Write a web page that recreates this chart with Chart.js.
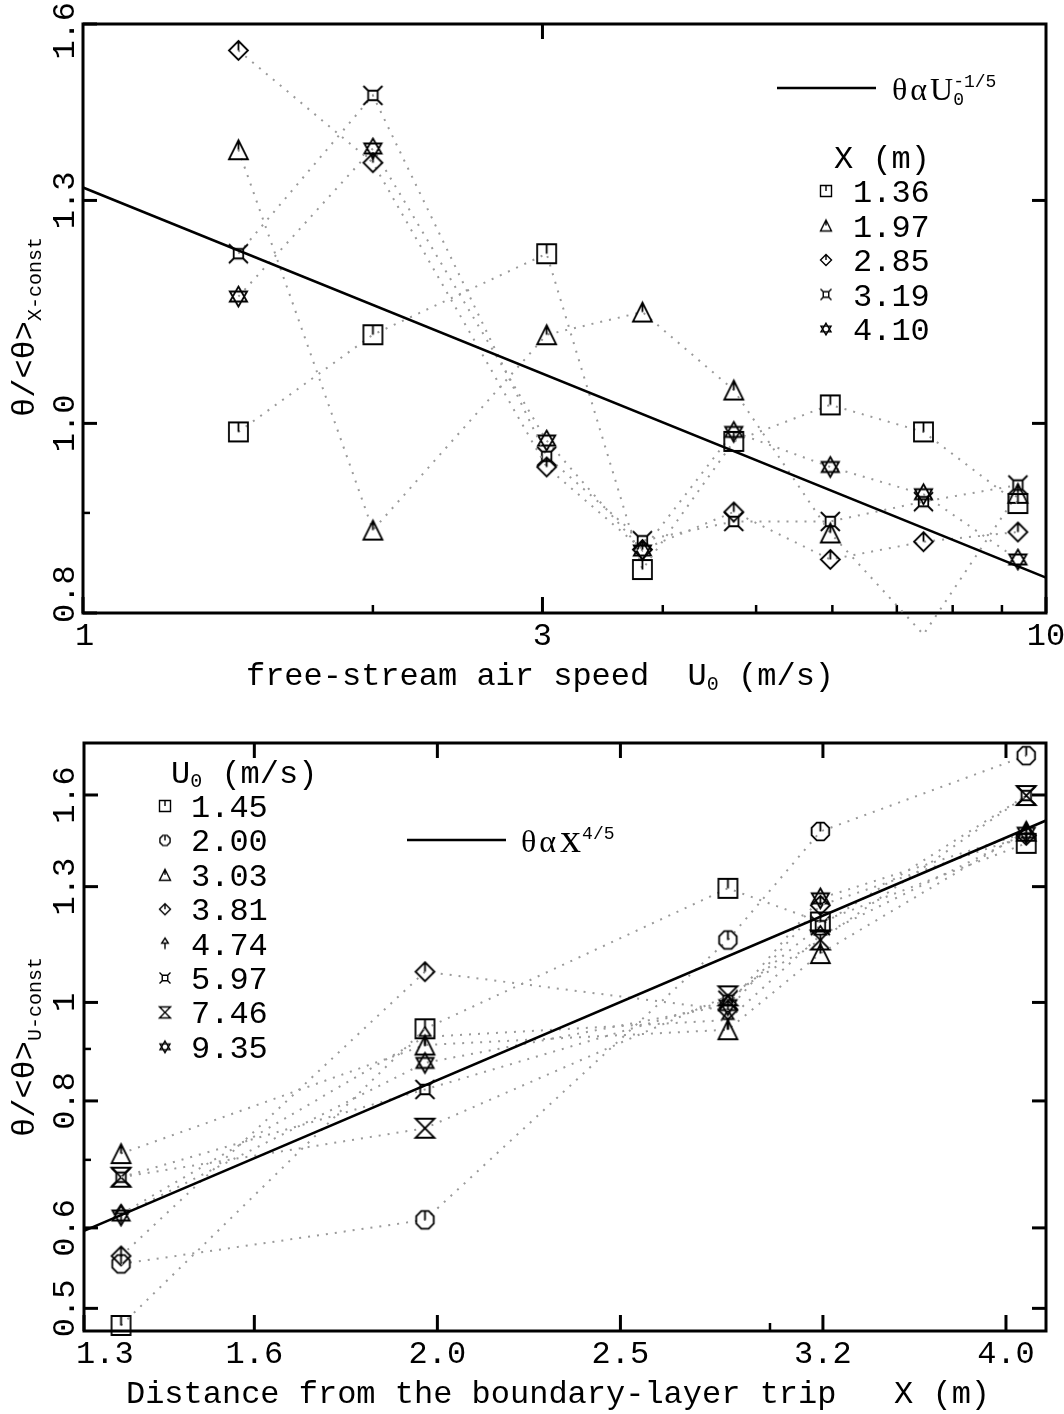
<!DOCTYPE html>
<html>
<head>
<meta charset="utf-8">
<script src="https://cdn.jsdelivr.net/npm/chart.js@4.4.1/dist/chart.umd.min.js"></script>
<style>
  body { margin: 0; background: #fff; }
  canvas { display: block; }
</style>
</head>
<body>
<canvas id="speedChart" width="1064" height="707"></canvas>
<canvas id="distChart" width="1064" height="707"></canvas>
<script>
// ---- data ----
const speeds = [1.45, 2.00, 3.03, 3.81, 4.74, 5.97, 7.46, 9.35];   // U0 (m/s)
const stations = [1.36, 1.97, 2.85, 3.19, 4.10];                   // X (m)

// upper panel: theta/<theta> at constant X, against U0
const atX136 = [0.990, 1.110, 1.221, 0.842, 0.979, 1.022, 0.990, 0.910];
const atX197 = [1.380, 0.882, 1.110, 1.140, 1.040, 0.879, 0.780, 0.921];
const atX285 = [1.551, 1.359, 0.950, 0.862, 0.901, 0.852, 0.870, 0.880];
const atX319 = [1.221, 1.471, 0.962, 0.871, 0.891, 0.891, 0.912, 0.930];
const atX410 = [1.161, 1.382, 0.980, 0.861, 0.990, 0.950, 0.920, 0.852];

// lower panel: theta/<theta> at constant U0, against X
const atU145 = [0.481, 0.942, 1.295, 1.200, 1.434];
const atU200 = [0.553, 0.611, 1.152, 1.473, 1.749];
const atU303 = [0.710, 0.908, 0.940, 1.117, 1.474];
const atU381 = [0.563, 1.072, 0.983, 1.246, 1.460];
const atU474 = [0.619, 0.925, 0.961, 1.164, 1.465];
const atU597 = [0.673, 0.821, 1.005, 1.190, 1.598];
const atU746 = [0.673, 0.752, 1.015, 1.152, 1.598];
const atU935 = [0.617, 0.872, 0.994, 1.266, 1.469];

// power-law reference lines (end points)
const fitSpeedX = [1, 10];
const fitSpeedY = [1.32, 0.834];
const fitDistX = [1.3, 4.2];
const fitDistY = [0.596, 1.51];

// ticks
const topXTicks = [1, 3, 10];
const topXLabels = ['1', '3', '10'];
const topXMinor = [2, 4, 5, 6, 7, 8, 9];
const topYTicks = [0.8, 1.0, 1.3, 1.6];
const topYLabels = ['0.8', '1.0', '1.3', '1.6'];
const topYMinor = [0.9];

const botXTicks = [1.3, 1.6, 2.0, 2.5, 3.2, 4.0];
const botXLabels = ['1.3', '1.6', '2.0', '2.5', '3.2', '4.0'];
const botXMinor = [3.0];
const botYTicks = [0.5, 0.6, 0.8, 1, 1.3, 1.6];
const botYLabels = ['0.5', '0.6', '0.8', '1', '1.3', '1.6'];
const botYMinor = [0.7, 0.9];

const topMarkers = ['square', 'triangle', 'diamond', 'boxcross', 'star'];
const botMarkers = ['square', 'circle', 'triangle', 'diamond', 'arrow', 'boxcross', 'hourglass', 'star'];

// ---- fonts ----
const MONO = '"Liberation Mono", "DejaVu Sans Mono", monospace';
const SERIF = '"Liberation Serif", "DejaVu Serif", serif';
const BIG = '32px ' + MONO;
const SMALL = '20px ' + MONO;

// ---- marker glyphs drawn into small canvases ----
const markerCache = {};
function markerImg(kind, size, lw) {
    const key = kind + '_' + size + '_' + lw;
    if (markerCache[key]) return markerCache[key];
    const n = Math.ceil(size * 1.2 + lw * 2 + 2);
    const c = document.createElement('canvas');
    c.width = n; c.height = n;
    const g = c.getContext('2d');
    g.translate(n / 2, n / 2);
    g.strokeStyle = '#000';
    g.lineWidth = lw;
    const h = size / 2;
    g.beginPath();
    if (kind === 'square') {
        g.rect(-h, -h, size, size);
        g.moveTo(0, -h); g.lineTo(0, 0);
    } else if (kind === 'circle') {
        for (let k = 0; k < 8; k++) {
            const a = (22.5 + k * 45) * Math.PI / 180;
            k ? g.lineTo(h * Math.cos(a), h * Math.sin(a)) : g.moveTo(h * Math.cos(a), h * Math.sin(a));
        }
        g.closePath();
        g.moveTo(0, -h); g.lineTo(0, 0);
    } else if (kind === 'triangle') {
        g.moveTo(0, -h); g.lineTo(h, h); g.lineTo(-h, h); g.closePath();
        g.moveTo(0, -h); g.lineTo(0, 0);
    } else if (kind === 'diamond') {
        g.moveTo(0, -h); g.lineTo(h, 0); g.lineTo(0, h); g.lineTo(-h, 0); g.closePath();
        g.moveTo(0, -h); g.lineTo(0, 0);
    } else if (kind === 'boxcross') {
        const q = h * 0.5;
        g.rect(-q, -q, 2 * q, 2 * q);
        g.moveTo(-q, -q); g.lineTo(-h, -h);
        g.moveTo(q, -q); g.lineTo(h, -h);
        g.moveTo(-q, q); g.lineTo(-h, h);
        g.moveTo(q, q); g.lineTo(h, h);
    } else if (kind === 'star') {
        const r = h * 1.05;
        [-90, 90].forEach(a0 => {
            for (let k = 0; k < 3; k++) {
                const a = (a0 + k * 120) * Math.PI / 180;
                k ? g.lineTo(r * Math.cos(a), r * Math.sin(a)) : g.moveTo(r * Math.cos(a), r * Math.sin(a));
            }
            g.closePath();
        });
    } else if (kind === 'arrow') {
        g.moveTo(0, -h); g.lineTo(h * 0.6, -h * 0.1); g.lineTo(-h * 0.6, -h * 0.1); g.closePath();
        g.moveTo(0, -h * 0.1); g.lineTo(0, h);
    } else if (kind === 'hourglass') {
        g.moveTo(-h, -h); g.lineTo(h, -h); g.lineTo(-h, h); g.lineTo(h, h); g.closePath();
    }
    g.stroke();
    markerCache[key] = c;
    return c;
}

// text made of pieces (subscripts, superscripts)
function drawRich(ctx, parts, x, y, align) {
    let w = 0;
    parts.forEach(p => { ctx.font = p.font; if (!p.stay) w += ctx.measureText(p.text).width + (p.gap || 0); });
    let cx = align === 'center' ? x - w / 2 : x;
    ctx.textAlign = 'left';
    parts.forEach(p => {
        ctx.font = p.font;
        ctx.fillText(p.text, cx, y + (p.dy || 0));
        if (!p.stay) cx += ctx.measureText(p.text).width + (p.gap || 0);
    });
}

function makeFrame(cfg) {
    return {
        id: 'frame',
        beforeDatasetsDraw(chart) {
            const ctx = chart.ctx, a = chart.chartArea;
            const xs = chart.scales.x, ys = chart.scales.y;
            ctx.save();
            ctx.strokeStyle = '#000';
            ctx.lineWidth = 3;
            ctx.strokeRect(a.left, a.top, a.right - a.left, a.bottom - a.top);
            const tick = (x1, y1, x2, y2, lw) => {
                ctx.lineWidth = lw;
                ctx.beginPath(); ctx.moveTo(x1, y1); ctx.lineTo(x2, y2); ctx.stroke();
            };
            cfg.xTicks.forEach(v => tick(xs.getPixelForValue(v), a.bottom, xs.getPixelForValue(v), a.bottom - 16, 3));
            cfg.xMinor.forEach(v => tick(xs.getPixelForValue(v), a.bottom, xs.getPixelForValue(v), a.bottom - 8, 2.5));
            cfg.xTop.forEach(v => tick(xs.getPixelForValue(v), a.top, xs.getPixelForValue(v), a.top + 15, 3));
            cfg.yTicks.forEach(v => tick(a.left, ys.getPixelForValue(v), a.left + 14, ys.getPixelForValue(v), 3));
            cfg.yMinor.forEach(v => tick(a.left, ys.getPixelForValue(v), a.left + 7, ys.getPixelForValue(v), 2.5));
            cfg.yRight.forEach(v => tick(a.right, ys.getPixelForValue(v), a.right - 14, ys.getPixelForValue(v), 3));
            ctx.restore();
        },
        afterDatasetsDraw(chart) {
            const ctx = chart.ctx, a = chart.chartArea;
            const xs = chart.scales.x, ys = chart.scales.y;
            ctx.save();
            ctx.fillStyle = '#000';
            ctx.textBaseline = 'alphabetic';

            // x tick labels
            ctx.font = BIG; ctx.textAlign = 'center';
            cfg.xTicks.forEach((v, i) => {
                const w = ctx.measureText(cfg.xLabels[i]).width;
                const c = Math.max(xs.getPixelForValue(v), a.left - 8 + w / 2);
                ctx.fillText(cfg.xLabels[i], c, cfg.xLabelY);
            });
            // y tick labels, rotated
            cfg.yTicks.forEach((v, i) => {
                const w = ctx.measureText(cfg.yLabels[i]).width;
                let c = ys.getPixelForValue(v);
                c = Math.max(c, a.top - 22 + w / 2);
                c = Math.min(c, a.bottom + 10 - w / 2);
                ctx.save(); ctx.translate(74, c); ctx.rotate(-Math.PI / 2);
                ctx.textAlign = 'center'; ctx.fillText(cfg.yLabels[i], 0, 0);
                ctx.restore();
            });

            // axis titles
            drawRich(ctx, cfg.xTitle, cfg.xTitleX, cfg.xTitleY, 'center');
            ctx.save(); ctx.translate(34, cfg.yTitleC); ctx.rotate(-Math.PI / 2);
            drawRich(ctx, cfg.yTitle, 0, 0, 'center');
            ctx.restore();

            // power-law key
            ctx.lineWidth = 2.6; ctx.strokeStyle = '#000';
            ctx.beginPath(); ctx.moveTo(cfg.fitKey.x1, cfg.fitKey.y); ctx.lineTo(cfg.fitKey.x2, cfg.fitKey.y); ctx.stroke();
            drawRich(ctx, cfg.fitKey.parts, cfg.fitKey.tx, cfg.fitKey.ty, 'left');

            // series key
            const k = cfg.key;
            drawRich(ctx, k.head, k.headX, k.headY, 'left');
            k.labels.forEach((lab, i) => {
                const by = k.y0 + i * k.dy;
                const img = markerImg(k.markers[i], 11, 1.4);
                ctx.drawImage(img, k.mx - img.width / 2, by - 11 - img.height / 2);
                ctx.font = BIG; ctx.textAlign = 'left';
                ctx.fillText(lab, k.tx, by);
            });
            ctx.restore();
        }
    };
}

function seriesSet(xs, ys, marker) {
    return {
        data: xs.map((x, i) => ({ x: x, y: ys[i] })),
        showLine: true,
        borderColor: '#9a9a9a',
        borderWidth: 2,
        borderDash: [2, 7],
        pointStyle: markerImg(marker, 19, 1.8),
        pointRadius: 10,
        clip: false,
        order: 2
    };
}

function fitSet(xs, ys) {
    return {
        data: xs.map((x, i) => ({ x: x, y: ys[i] })),
        showLine: true,
        borderColor: '#000',
        borderWidth: 2.6,
        pointRadius: 0,
        clip: false,
        order: 1
    };
}

function baseOptions(pad, xMin, xMax, yMin, yMax) {
    return {
        responsive: false,
        devicePixelRatio: 1,
        animation: false,
        events: [],
        layout: { padding: pad },
        plugins: { legend: { display: false }, tooltip: { enabled: false } },
        scales: {
            x: { type: 'logarithmic', min: xMin, max: xMax, display: false },
            y: { type: 'logarithmic', min: yMin, max: yMax, display: false }
        }
    };
}

// ---- upper chart: against U0 ----
const topSeries = [atX136, atX197, atX285, atX319, atX410];
new Chart(document.getElementById('speedChart'), {
    type: 'scatter',
    data: {
        datasets: [fitSet(fitSpeedX, fitSpeedY)]
            .concat(topSeries.map((s, i) => seriesSet(speeds, s, topMarkers[i])))
    },
    options: baseOptions({ left: 83, top: 24, right: 18, bottom: 94 }, 1, 10, 0.8, 1.6),
    plugins: [makeFrame({
        xTicks: topXTicks, xLabels: topXLabels, xMinor: topXMinor, xTop: [3],
        yTicks: topYTicks, yLabels: topYLabels, yMinor: topYMinor, yRight: [1.0, 1.3],
        xLabelY: 645,
        xTitle: [{ text: 'free-stream air speed  U', font: BIG }, { text: '0', font: SMALL, dy: 5 }, { text: ' (m/s)', font: BIG }],
        xTitleX: 540, xTitleY: 685,
        yTitle: [{ text: 'θ/<θ>', font: BIG }, { text: 'X-const', font: SMALL, dy: 7 }],
        yTitleC: 327,
        fitKey: {
            x1: 777, x2: 876, y: 88, tx: 892, ty: 100,
            parts: [
                { text: 'θ', font: '32px ' + SERIF, gap: 3 },
                { text: 'α', font: '32px ' + SERIF, gap: 3 },
                { text: 'U', font: '32px ' + SERIF },
                { text: '0', font: '18px ' + MONO, dy: 5, stay: true },
                { text: '-1/5', font: '18px ' + MONO, dy: -13 }
            ]
        },
        key: {
            head: [{ text: 'X (m)', font: BIG }], headX: 834, headY: 168,
            labels: stations.map(v => v.toFixed(2)), markers: topMarkers,
            mx: 826, tx: 853, y0: 202, dy: 34.5
        }
    })]
});

// ---- lower chart: against X ----
const botSeries = [atU145, atU200, atU303, atU381, atU474, atU597, atU746, atU935];
new Chart(document.getElementById('distChart'), {
    type: 'scatter',
    data: {
        datasets: [fitSet(fitDistX, fitDistY)]
            .concat(botSeries.map((s, i) => seriesSet(stations, s, botMarkers[i])))
    },
    options: baseOptions({ left: 84, top: 36, right: 18, bottom: 83 }, 1.3, 4.2, 0.475, 1.8),
    plugins: [makeFrame({
        xTicks: botXTicks, xLabels: botXLabels, xMinor: botXMinor, xTop: [1.6, 2.0, 2.5, 3.2, 4.0],
        yTicks: botYTicks, yLabels: botYLabels, yMinor: botYMinor, yRight: botYTicks,
        xLabelY: 656,
        xTitle: [{ text: 'Distance from the boundary-layer trip   X (m)', font: BIG }],
        xTitleX: 558, xTitleY: 696,
        yTitle: [{ text: 'θ/<θ>', font: BIG }, { text: 'U-const', font: SMALL, dy: 7 }],
        yTitleC: 340,
        fitKey: {
            x1: 407, x2: 506, y: 133, tx: 521, ty: 145,
            parts: [
                { text: 'θ', font: '32px ' + SERIF, gap: 3 },
                { text: 'α', font: '32px ' + SERIF, gap: 4 },
                { text: 'x', font: '42px ' + SERIF, gap: 1 },
                { text: '4/5', font: '18px ' + MONO, dy: -13 }
            ]
        },
        key: {
            head: [{ text: 'U', font: BIG }, { text: '0', font: SMALL, dy: 4 }, { text: ' (m/s)', font: BIG }],
            headX: 171, headY: 76,
            labels: speeds.map(v => v.toFixed(2)), markers: botMarkers,
            mx: 165, tx: 191, y0: 110, dy: 34.4
        }
    })]
});
</script>
</body>
</html>
